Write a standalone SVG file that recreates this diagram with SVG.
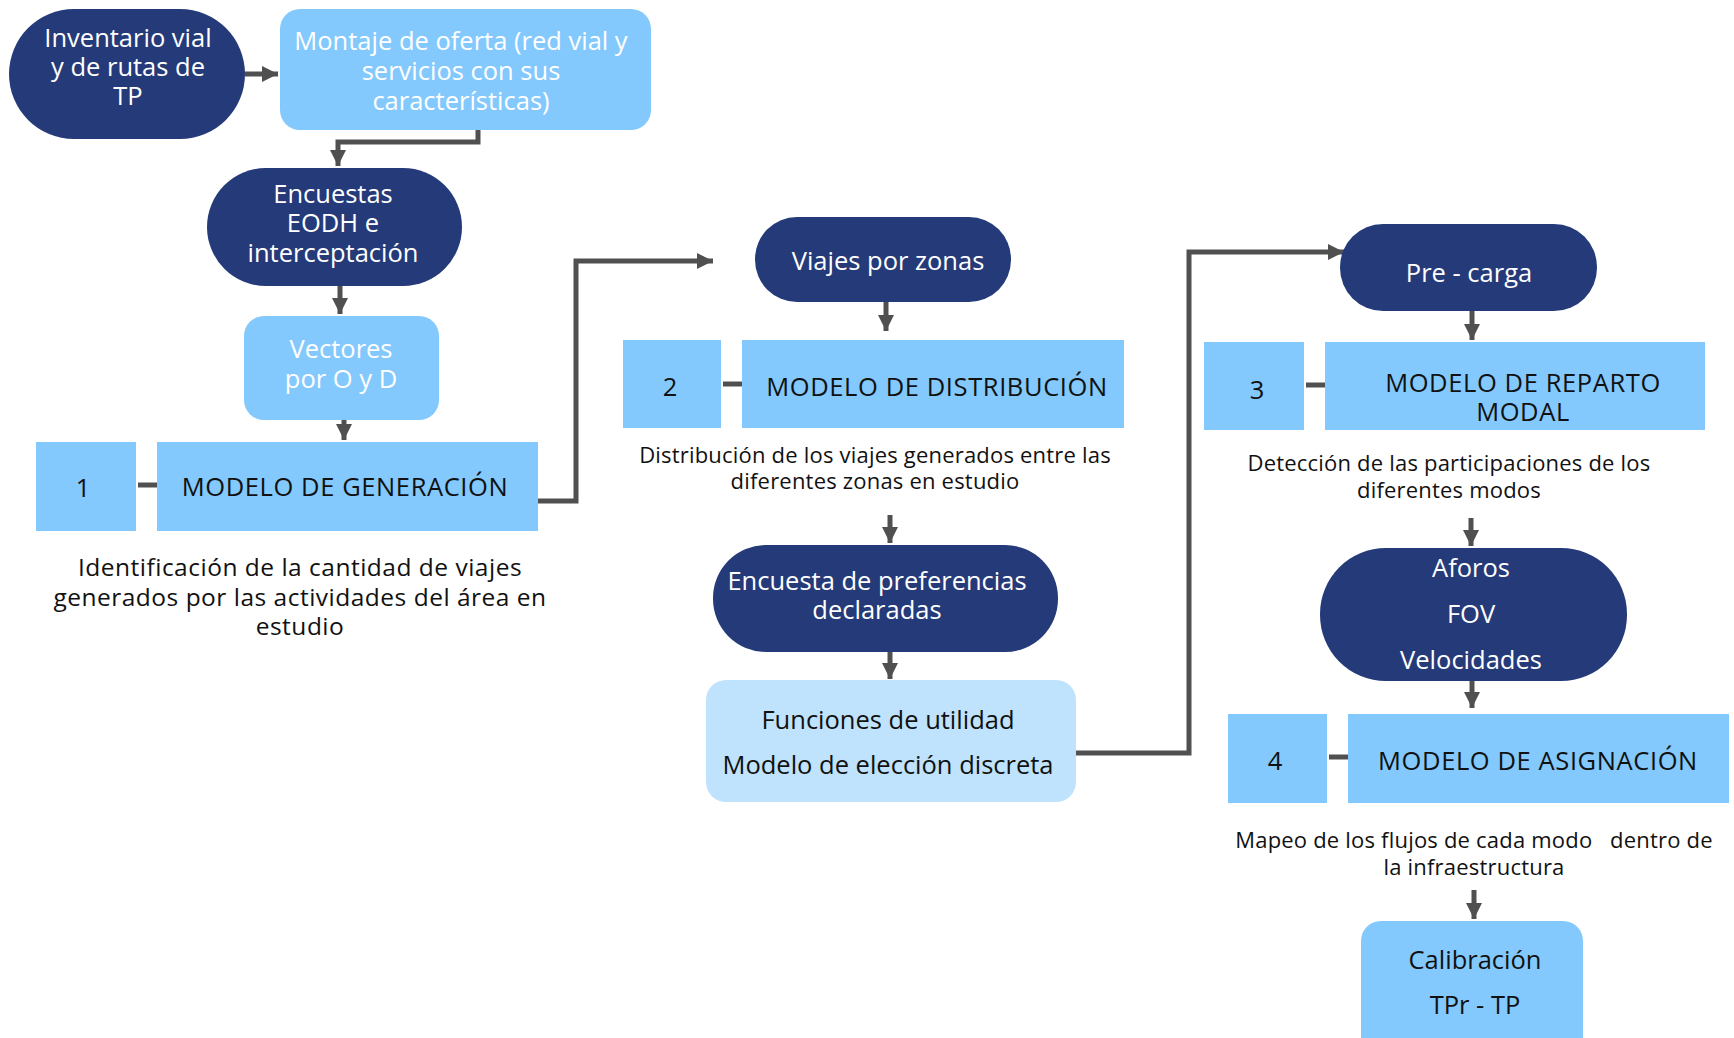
<svg xmlns="http://www.w3.org/2000/svg" width="1734" height="1038" viewBox="0 0 1734 1038">
<style>
text{font-family:"Open Sans","Liberation Sans",sans-serif;text-anchor:middle}
.w{fill:#ffffff;font-size:25.5px}
.k{fill:#111111;font-size:25.5px}
.u{letter-spacing:0.6px}
.d{fill:#111111;font-size:22px;letter-spacing:0.2px}
.d1{fill:#111111;font-size:24.5px;letter-spacing:0.5px}
.dk{fill:#253a78}
.lb{fill:#83c9fd}
.xl{fill:#bfe3fd}
.c{fill:none;stroke:#505050;stroke-width:5}
</style>
<defs>
<marker id="ah" markerUnits="userSpaceOnUse" markerWidth="18" markerHeight="18" refX="16" refY="8" orient="auto">
<path d="M0,0 L16,8 L0,16 z" fill="#505050"/>
</marker>
</defs>
<g id="connectors">
<path class="c" d="M245,74 H278" marker-end="url(#ah)"/>
<path class="c" d="M478,130 V142 H338 V166" marker-end="url(#ah)"/>
<path class="c" d="M340,286 V314" marker-end="url(#ah)"/>
<path class="c" d="M344,420 V440" marker-end="url(#ah)"/>
<path class="c" d="M138,485 H158"/>
<path class="c" d="M538,501 H576 V261 H713" marker-end="url(#ah)"/>
<path class="c" d="M886,302 V331" marker-end="url(#ah)"/>
<path class="c" d="M723,384 H743"/>
<path class="c" d="M890,515 V543" marker-end="url(#ah)"/>
<path class="c" d="M890,652 V679" marker-end="url(#ah)"/>
<path class="c" d="M1076,753 H1189 V252 H1344" marker-end="url(#ah)"/>
<path class="c" d="M1472,311 V340" marker-end="url(#ah)"/>
<path class="c" d="M1306,385 H1326"/>
<path class="c" d="M1471,518 V546" marker-end="url(#ah)"/>
<path class="c" d="M1472,681 V708" marker-end="url(#ah)"/>
<path class="c" d="M1329,757 H1349"/>
<path class="c" d="M1474,890 V919" marker-end="url(#ah)"/>
</g>
<g id="inventario">
<rect class="dk" x="9" y="9" width="236" height="130" rx="65"/>
<text class="w" x="128" y="47">Inventario vial</text>
<text class="w" x="128" y="76">y de rutas de</text>
<text class="w" x="128" y="105">TP</text>
</g>
<g id="montaje">
<rect class="lb" x="280" y="9" width="371" height="121" rx="20"/>
<text class="w" x="461" y="50">Montaje de oferta (red vial y</text>
<text class="w" x="461" y="80">servicios con sus</text>
<text class="w" x="461" y="110">características)</text>
</g>
<g id="encuestas">
<rect class="dk" x="207" y="168" width="255" height="118" rx="59"/>
<text class="w" x="333" y="203">Encuestas</text>
<text class="w" x="333" y="232">EODH e</text>
<text class="w" x="333" y="262">interceptación</text>
</g>
<g id="vectores">
<rect class="lb" x="244" y="316" width="195" height="104" rx="20"/>
<text class="w" x="341" y="358">Vectores</text>
<text class="w" x="341" y="388">por O y D</text>
</g>
<g id="num1">
<rect class="lb" x="36" y="442" width="100" height="89"/>
<text class="k" x="83" y="497">1</text>
</g>
<g id="generacion">
<rect class="lb" x="157" y="442" width="381" height="89"/>
<text class="k u" x="345" y="496">MODELO DE GENERACIÓN</text>
</g>
<g id="desc1">
<text class="d1" x="300" y="576">Identificación de la cantidad de viajes</text>
<text class="d1" x="300" y="606">generados por las actividades del área en</text>
<text class="d1" x="300" y="635">estudio</text>
</g>
<g id="viajes">
<rect class="dk" x="755" y="217" width="256" height="85" rx="42"/>
<text class="w" x="888" y="270">Viajes por zonas</text>
</g>
<g id="num2">
<rect class="lb" x="623" y="340" width="98" height="88"/>
<text class="k" x="670" y="396">2</text>
</g>
<g id="distribucion">
<rect class="lb" x="742" y="340" width="382" height="88"/>
<text class="k u" x="937" y="396">MODELO DE DISTRIBUCIÓN</text>
</g>
<g id="desc2">
<text class="d" x="875" y="463">Distribución de los viajes generados entre las</text>
<text class="d" x="875" y="489">diferentes zonas en estudio</text>
</g>
<g id="preferencias">
<rect class="dk" x="713" y="545" width="345" height="107" rx="53"/>
<text class="w" x="877" y="590">Encuesta de preferencias</text>
<text class="w" x="877" y="619">declaradas</text>
</g>
<g id="funciones">
<rect class="xl" x="706" y="680" width="370" height="122" rx="20"/>
<text class="k" x="888" y="729">Funciones de utilidad</text>
<text class="k" x="888" y="774">Modelo de elección discreta</text>
</g>
<g id="precarga">
<rect class="dk" x="1340" y="224" width="257" height="87" rx="43"/>
<text class="w" x="1469" y="282">Pre - carga</text>
</g>
<g id="num3">
<rect class="lb" x="1204" y="342" width="100" height="88"/>
<text class="k" x="1257" y="399">3</text>
</g>
<g id="reparto">
<rect class="lb" x="1325" y="342" width="380" height="88"/>
<text class="k u" x="1523" y="392">MODELO DE REPARTO</text>
<text class="k u" x="1523" y="421">MODAL</text>
</g>
<g id="desc3">
<text class="d" x="1449" y="471">Detección de las participaciones de los</text>
<text class="d" x="1449" y="498">diferentes modos</text>
</g>
<g id="aforos">
<rect class="dk" x="1320" y="548" width="307" height="133" rx="66"/>
<text class="w" x="1471" y="577">Aforos</text>
<text class="w" x="1471" y="623">FOV</text>
<text class="w" x="1471" y="669">Velocidades</text>
</g>
<g id="num4">
<rect class="lb" x="1228" y="714" width="99" height="89"/>
<text class="k" x="1275" y="770">4</text>
</g>
<g id="asignacion">
<rect class="lb" x="1348" y="714" width="381" height="89"/>
<text class="k u" x="1538" y="770">MODELO DE ASIGNACIÓN</text>
</g>
<g id="desc4">
<text class="d" x="1474" y="848" xml:space="preserve">Mapeo de los flujos de cada modo   dentro de</text>
<text class="d" x="1474" y="875">la infraestructura</text>
</g>
<g id="calibracion">
<rect class="lb" x="1361" y="921" width="222" height="140" rx="20"/>
<text class="k" x="1475" y="969">Calibración</text>
<text class="k" x="1475" y="1014">TPr - TP</text>
</g>
</svg>
